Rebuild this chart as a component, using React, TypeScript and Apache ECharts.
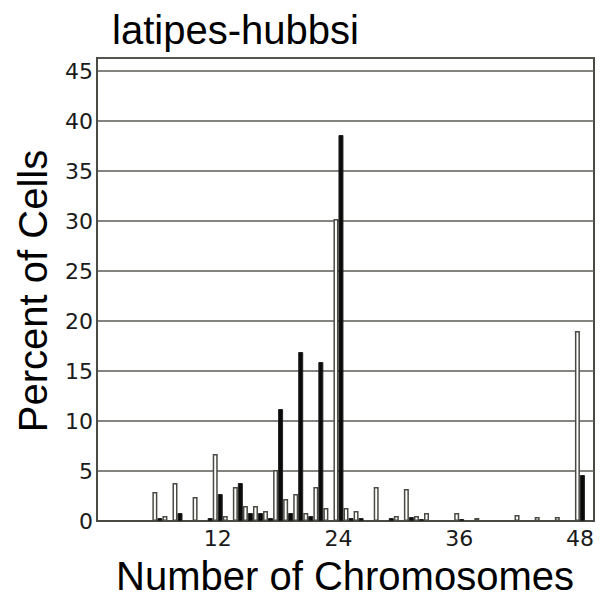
import React, { useEffect, useRef } from "react";
import * as echarts from "echarts";

const chromosomes = [6, 7, 8, 10, 11, 12, 13, 14, 15, 16, 17, 18, 19, 20, 21, 22, 23, 24, 25, 26, 28, 29, 30, 31, 32, 33, 36, 38, 42, 44, 46, 48];
const whiteValues = [2.9, 0.5, 3.8, 2.4, null, 6.7, 0.5, 3.4, 1.5, 1.5, 1.0, 5.1, 2.2, 2.7, 0.8, 3.4, 1.3, 30.2, 1.3, 1.0, 3.4, null, 0.5, 3.2, 0.5, 0.8, 0.8, 0.3, 0.6, 0.4, 0.4, 19.0];
const blackValues = [0.3, null, 0.8, null, 0.3, 2.7, null, 3.8, 0.8, 0.8, 0.3, 11.2, 0.8, 16.9, 0.5, 15.9, null, 38.6, 0.3, 0.3, null, 0.3, null, 0.4, 0.2, null, 0.2, null, null, null, null, 4.6];
const xTicks = [12, 24, 36, 48];
const yTicks = [0, 5, 10, 15, 20, 25, 30, 35, 40, 45];

const title = "latipes-hubbsi";
const xName = "Number of Chromosomes";
const yName = "Percent of Cells";

function pairs(vals: (number | null)[]) {
  const out: [number, number][] = [];
  chromosomes.forEach((c, i) => {
    const v = vals[i];
    if (v !== null && v !== undefined) out.push([c, v]);
  });
  return out;
}

export default function App() {
  const ref = useRef<HTMLDivElement>(null);
  useEffect(() => {
    if (!ref.current) return;
    const chart = echarts.init(ref.current, undefined, { renderer: "svg" });
    const sansFont = "Liberation Sans, Arial, Helvetica, sans-serif";
    chart.setOption({
      animation: false,
      backgroundColor: "#ffffff",
      grid: {
        left: 97,
        right: 7,
        top: 58,
        bottom: 78,
        show: true,
        borderColor: "#4a4a44",
        borderWidth: 2,
        containLabel: false,
      },
      xAxis: {
        type: "value",
        min: 0,
        max: 49.4,
        interval: 12,
        axisLine: { show: true, lineStyle: { color: "#4a4a44", width: 2 } },
        axisTick: { show: false },
        splitLine: { show: false },
        axisLabel: {
          margin: 6,
          fontFamily: "DejaVu Sans",
          fontSize: 22,
          color: "#1a1a1a",
          showMaxLabel: true,
          formatter: (v: number) => (xTicks.includes(v) ? String(v) : ""),
        },
      },
      yAxis: {
        type: "value",
        min: 0,
        max: 46.3,
        interval: 5,
        axisLine: { show: true, lineStyle: { color: "#4a4a44", width: 2 } },
        axisTick: { show: false },
        splitLine: { show: true, lineStyle: { color: "#5a5a55", width: 1.5 } },
        axisLabel: {
          margin: 4,
          fontFamily: "DejaVu Sans",
          fontSize: 22,
          color: "#1a1a1a",
          formatter: (v: number) => (yTicks.includes(v) ? String(v) : ""),
        },
      },
      series: [
        {
          type: "bar",
          data: pairs(whiteValues),
          barWidth: 5,
          barGap: "0%",
          itemStyle: { color: "#ffffff", borderColor: "#4a4a44", borderWidth: 1.5 },
        },
        {
          type: "bar",
          data: pairs(blackValues),
          barWidth: 5,
          barGap: "0%",
          itemStyle: { color: "#0a0a0a", borderColor: "#222222", borderWidth: 1 },
        },
      ],
      graphic: [
        {
          type: "text",
          x: 112,
          y: 30,
          style: {
            text: title,
            font: `40px ${sansFont}`,
            fill: "#000000",
            textAlign: "left",
            textVerticalAlign: "middle",
          },
        },
        {
          type: "text",
          x: 345,
          y: 576,
          style: {
            text: xName,
            font: `40px ${sansFont}`,
            fill: "#000000",
            textAlign: "center",
            textVerticalAlign: "middle",
          },
        },
        {
          type: "text",
          x: 33,
          y: 291,
          rotation: Math.PI / 2,
          style: {
            text: yName,
            font: `40px ${sansFont}`,
            fill: "#000000",
            textAlign: "center",
            textVerticalAlign: "middle",
          },
        },
      ],
    });
    return () => chart.dispose();
  }, []);
  return <div ref={ref} style={{ width: 601, height: 599, position: "fixed", left: 0, top: 0 }} />;
}
